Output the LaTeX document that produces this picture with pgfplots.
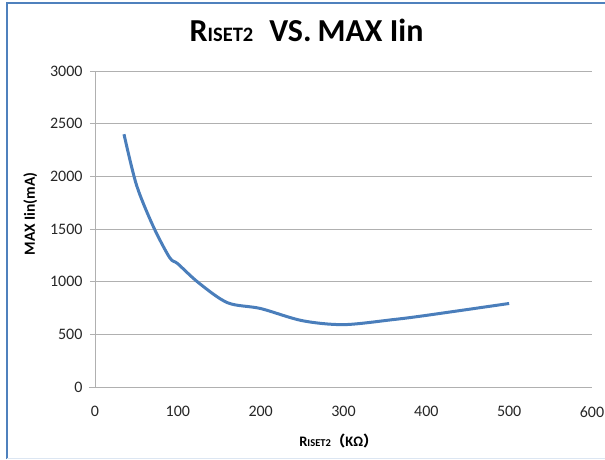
\documentclass[border=0pt]{standalone}
\usepackage{pgfplots}
\pgfplotsset{compat=1.18}
\usepackage{fontspec}
\setmainfont{Carlito}
\newfontfamily\cjk{Noto Sans CJK SC}
\definecolor{lineblue}{HTML}{4A7EBB}
\definecolor{gridgray}{HTML}{B0B0B0}
\definecolor{frameblue}{HTML}{4F81BD}
\begin{document}
\begin{tikzpicture}[x=1pt,y=1pt]
\path[use as bounding box] (-95,-72) rectangle (510,387);
\draw[frameblue, line width=1.5pt] (-88,-72) -- (-88,384) -- (510,384);
\draw[frameblue!20, line width=1pt] (-88,-71) -- (510,-71);
\draw[gridgray, line width=0.9pt] (-6,0) -- (0,0);
\begin{axis}[
  at={(0,0)}, anchor=south west,
  scale only axis, width=497pt, height=316pt,
  xmin=0, xmax=600, ymin=0, ymax=3000,
  xtick={0,100,...,600}, ytick={0,500,...,3000},
  ymajorgrids,
  grid style={gridgray, line width=0.9pt},
  axis x line*=bottom, axis y line*=left,
  axis line style={gridgray, line width=0.9pt},
  ytick style={gridgray, line width=0.9pt},
  xtick style={draw=none},
  tick align=outside, major tick length=5pt,
  ticklabel style={font=\fontsize{16}{18}\selectfont, text=black!85},
  xticklabel style={yshift=-11pt},
  yticklabel style={xshift=-4pt},
  /pgf/number format/assume math mode=true,
  /pgf/number format/set thousands separator={},
  clip=false,
]
\addplot[lineblue, line width=3pt, smooth, tension=0.5] coordinates {
 (35,2400) (50,1920) (70,1530) (90,1230) (100,1170) (125,990)
 (160,800) (200,745) (250,630) (300,592) (360,640) (400,680) (500,793)
};
\end{axis}
\node[anchor=base, font=\bfseries\fontsize{32}{34}\selectfont] at (211.5,345)
  {R{\fontsize{20.5}{22}\selectfont ISET2}\hspace{16pt}VS.\hspace{6pt}MAX Iin};
\node[anchor=base, font=\bfseries\fontsize{14.5}{16}\selectfont] at (243.5,-59)
  {R{\fontsize{10.5}{12}\selectfont ISET2}{\cjk （}KΩ{\cjk ）}};
\node[anchor=base, rotate=90, font=\bfseries\fontsize{15.5}{17}\selectfont] at (-60,173)
  {MAX Iin(mA)};
\end{tikzpicture}
\end{document}
